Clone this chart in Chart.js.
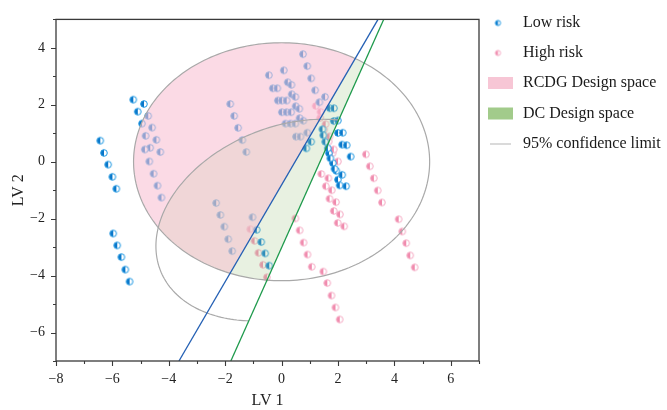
<!DOCTYPE html>
<html><head><meta charset="utf-8">
<script src="https://cdn.jsdelivr.net/npm/chart.js@4/dist/chart.umd.min.js"></script>
<style>html,body{margin:0;padding:0;background:#fff}</style>
</head><body>
<canvas id="c" width="667" height="410"></canvas>
<script>
// ---- data ----
const xTickValues = [-8, -6, -4, -2, 0, 2, 4, 6];
const yTickValues = [-6, -4, -2, 0, 2, 4];
const legendLabels = ['Low risk', 'High risk', 'RCDG Design space', 'DC Design space', '95% confidence limit'];

const lowRiskX = [
-6.43,-6.30,-6.15,-6.00,-5.86,
-5.97,-5.83,-5.68,-5.54,-5.39,
-5.26,-5.10,-4.95,-4.82,-4.66,
-4.88,-4.73,-4.59,-4.44,-4.30,
-4.85,-4.69,-4.54,-4.40,-4.26,
-1.82,-1.68,-1.54,-1.39,-1.25,
-2.32,-2.17,-2.03,-1.89,-1.75,
-1.03,-0.88,-0.72,-0.58,-0.44,
0.76,0.91,1.05,1.19,1.34,
0.08,0.22,0.36,0.50,0.64,
-0.45,-0.31,-0.13,0.01,0.14,
-0.15,0.01,0.18,0.32,0.51,
0.18,0.34,0.49,0.67,0.88,
0.35,0.49,0.63,0.77,0.91,
1.05,1.54,
1.71,1.85,2.00,2.15,
1.86,2.00,2.17,2.31,2.45,
1.45,1.55,1.68,1.82,1.94,
1.48,1.64,1.73,1.88,2.00,
2.06,2.15,2.29
];
const lowRiskY = [
0.74,0.31,-0.10,-0.53,-0.95,
-2.52,-2.94,-3.35,-3.79,-4.21,
2.18,1.76,1.34,0.91,0.49,
2.03,1.61,1.20,0.77,0.34,
0.43,0.01,-0.42,-0.84,-1.26,
2.03,1.61,1.19,0.76,0.34,
-1.45,-1.87,-2.28,-2.72,-3.14,
-1.95,-2.39,-2.82,-3.22,-3.65,
3.78,3.36,2.93,2.51,2.09,
3.21,2.79,2.37,1.95,1.53,
3.04,2.58,2.15,1.74,1.34,
2.58,2.15,1.74,1.34,0.88,
2.15,1.74,1.34,0.88,0.47,
2.70,2.28,1.86,1.44,1.02,
0.70,2.28,
1.88,1.43,1.01,0.60,
1.88,1.45,1.02,0.58,0.18,
1.14,0.70,0.30,-0.05,-0.32,
0.93,0.47,0.12,-0.25,-0.63,
-0.83,-0.46,-0.86
];
const highRiskX = [
-1.11,-0.96,-0.82,-0.66,-0.52,
0.49,0.64,0.78,0.92,1.07,
1.48,1.62,1.77,1.91,2.06,
2.99,3.13,3.27,3.41,3.56,
4.15,4.28,4.42,4.56,4.72,
1.41,1.57,1.70,1.85,1.99,
1.66,1.78,1.93,2.07,2.22,
1.21,1.37,1.51,1.67,1.81,
1.38,1.56,1.70,1.85,2.00
];
const highRiskY = [
-2.37,-2.78,-3.20,-3.62,-4.06,
-1.99,-2.41,-2.84,-3.26,-3.69,
-3.86,-4.26,-4.70,-5.12,-5.54,
0.26,-0.16,-0.58,-1.01,-1.43,
-2.02,-2.45,-2.86,-3.29,-3.71,
-0.43,-0.86,-1.30,-1.73,-2.15,
-0.58,-1.00,-1.42,-1.85,-2.27,
1.96,1.54,1.13,0.71,0.30,
1.75,1.32,0.89,0.43,0.01
];
// boundary lines (x at y-min, x at y-max)
const blueLineX = [-3.64, 3.42];
const blueLineY = [-7, 5];
const greenLineX = [-1.80, 3.62];
const greenLineY = [-7, 5];
// ellipses: [centerX, centerY, semiAxisA, semiAxisB, angleDeg]
const outerEllipse = [0, 0, 5.25, 4.18, 0];
const innerEllipse = [0.25, -2.05, 4.88, 3.30, 21];

// ---- helpers ----
function makeMarker(fill, stroke, r) {
  const s = Math.ceil(2 * r + 3);
  const c = document.createElement('canvas');
  c.width = s; c.height = s;
  const g = c.getContext('2d');
  const m = s / 2;
  g.beginPath(); g.arc(m, m, r, 0, Math.PI * 2); g.fillStyle = '#ffffff'; g.fill();
  g.beginPath(); g.moveTo(m, m - r); g.arc(m, m, r, -Math.PI / 2, Math.PI / 2, true); g.closePath();
  g.fillStyle = fill; g.fill();
  g.beginPath(); g.arc(m, m, r, 0, Math.PI * 2); g.lineWidth = 1; g.strokeStyle = stroke; g.stroke();
  return c;
}
const lowMarker = makeMarker('#0a76c8', '#1f98e2', 3.3);
const highMarker = makeMarker('#f08aad', '#f5a9c3', 3.3);
const lowLegendMarker = makeMarker('#0a76c8', '#1f98e2', 2.6);
const highLegendMarker = makeMarker('#f08aad', '#f5a9c3', 2.6);

function pts(xs, ys) { return xs.map((x, i) => ({x: x, y: ys[i]})); }
function fmt(v) { return String(v).replace('-', '\u2212'); }

function ellipsePath(ctx, xs, ys, e) {
  const [cx, cy, a, b, ang] = e;
  const th = ang * Math.PI / 180;
  ctx.beginPath();
  for (let i = 0; i <= 240; i++) {
    const t = i / 240 * Math.PI * 2;
    const X = cx + a * Math.cos(t) * Math.cos(th) - b * Math.sin(t) * Math.sin(th);
    const Y = cy + a * Math.cos(t) * Math.sin(th) + b * Math.sin(t) * Math.cos(th);
    const px = xs.getPixelForValue(X), py = ys.getPixelForValue(Y);
    if (i === 0) ctx.moveTo(px, py); else ctx.lineTo(px, py);
  }
  ctx.closePath();
}
function lineX(lx, ly, y) { return lx[0] + (y - ly[0]) * (lx[1] - lx[0]) / (ly[1] - ly[0]); }
function leftOfPath(ctx, xs, ys, lx, ly) {
  ctx.beginPath();
  ctx.moveTo(xs.getPixelForValue(lineX(lx, ly, -60)), ys.getPixelForValue(-60));
  ctx.lineTo(xs.getPixelForValue(lineX(lx, ly, 60)), ys.getPixelForValue(60));
  ctx.lineTo(xs.getPixelForValue(-100), ys.getPixelForValue(60));
  ctx.lineTo(xs.getPixelForValue(-100), ys.getPixelForValue(-60));
  ctx.closePath();
}
function bandPath(ctx, xs, ys) {
  ctx.beginPath();
  ctx.moveTo(xs.getPixelForValue(lineX(blueLineX, blueLineY, -60)), ys.getPixelForValue(-60));
  ctx.lineTo(xs.getPixelForValue(lineX(blueLineX, blueLineY, 60)), ys.getPixelForValue(60));
  ctx.lineTo(xs.getPixelForValue(lineX(greenLineX, greenLineY, 60)), ys.getPixelForValue(60));
  ctx.lineTo(xs.getPixelForValue(lineX(greenLineX, greenLineY, -60)), ys.getPixelForValue(-60));
  ctx.closePath();
}

const regionsPlugin = {
  id: 'regions',
  afterDatasetDraw(chart, args) {
    if (args.index !== 1) return;
    const ctx = chart.ctx, ca = chart.chartArea;
    const xs = chart.scales.x, ys = chart.scales.y;
    ctx.save();
    ctx.beginPath(); ctx.rect(ca.left, ca.top, ca.right - ca.left, ca.bottom - ca.top); ctx.clip();
    // RCDG (pink)
    ctx.save();
    ellipsePath(ctx, xs, ys, outerEllipse); ctx.clip();
    leftOfPath(ctx, xs, ys, blueLineX, blueLineY);
    ctx.fillStyle = 'rgba(248,192,210,0.58)'; ctx.fill();
    ctx.clip();
    ellipsePath(ctx, xs, ys, innerEllipse);
    ctx.fillStyle = 'rgba(205,200,170,0.24)'; ctx.fill();
    ctx.restore();
    // DC (green band)
    ctx.save();
    ellipsePath(ctx, xs, ys, outerEllipse); ctx.clip();
    bandPath(ctx, xs, ys);
    ctx.fillStyle = 'rgba(165,200,140,0.26)'; ctx.fill();
    ctx.restore();
    // confidence outlines
    ctx.lineWidth = 1.2; ctx.strokeStyle = '#a9a9a9';
    ellipsePath(ctx, xs, ys, outerEllipse); ctx.stroke();
    ctx.save();
    leftOfPath(ctx, xs, ys, greenLineX, greenLineY); ctx.clip();
    ellipsePath(ctx, xs, ys, innerEllipse); ctx.stroke();
    ctx.restore();
    ctx.restore();
  }
};

const frameLegendPlugin = {
  id: 'frameLegend',
  afterDraw(chart) {
    const ctx = chart.ctx, ca = chart.chartArea;
    const xs = chart.scales.x, ys = chart.scales.y;
    ctx.save();
    ctx.strokeStyle = '#3a3a3a'; ctx.lineWidth = 1.3;
    ctx.strokeRect(ca.left, ca.top, ca.right - ca.left, ca.bottom - ca.top);
    ctx.lineWidth = 1.1;
    ctx.beginPath();
    for (let v = -8; v <= 7; v++) {
      const px = Math.round(xs.getPixelForValue(v)) + 0.5;
      const len = (v % 2 === 0) ? 5 : 3;
      ctx.moveTo(px, ca.bottom); ctx.lineTo(px, ca.bottom + len);
    }
    for (let v = -7; v <= 5; v++) {
      const py = Math.round(ys.getPixelForValue(v)) + 0.5;
      const len = (v % 2 === 0) ? 5 : 3;
      ctx.moveTo(ca.left, py); ctx.lineTo(ca.left - len, py);
    }
    ctx.stroke();
    // legend
    const lx = ca.right + 9, tx = ca.right + 44;
    const rows = [23, 53, 83, 113.5, 143.5];
    ctx.font = '16px "Liberation Serif", "Times New Roman", serif';
    ctx.fillStyle = '#1a1a1a'; ctx.textBaseline = 'middle'; ctx.textAlign = 'left';
    ctx.drawImage(lowLegendMarker, lx + 10 - lowLegendMarker.width / 2, rows[0] - lowLegendMarker.height / 2);
    ctx.drawImage(highLegendMarker, lx + 10 - highLegendMarker.width / 2, rows[1] - highLegendMarker.height / 2);
    ctx.fillStyle = '#f7c6d5'; ctx.fillRect(lx, rows[2] - 6, 25, 12);
    ctx.fillStyle = '#a2cb8b'; ctx.fillRect(lx, rows[3] - 6, 25, 12);
    ctx.strokeStyle = '#b5b5b5'; ctx.lineWidth = 1;
    ctx.beginPath(); ctx.moveTo(lx + 2, rows[4] + 0.5); ctx.lineTo(lx + 23, rows[4] + 0.5); ctx.stroke();
    ctx.fillStyle = '#1a1a1a';
    legendLabels.forEach((t, i) => ctx.fillText(t, tx, rows[i]));
    ctx.restore();
  }
};

const serif = '"Liberation Serif", "Times New Roman", serif';

new Chart(document.getElementById('c'), {
  type: 'scatter',
  data: {
    datasets: [
      { label: legendLabels[1], data: pts(highRiskX, highRiskY), pointStyle: highMarker, pointRadius: 4, order: 4 },
      { label: legendLabels[0], data: pts(lowRiskX, lowRiskY), pointStyle: lowMarker, pointRadius: 4, order: 3 },
      { label: 'DC boundary 2', data: pts(greenLineX, greenLineY), showLine: true, pointRadius: 0, borderColor: '#1e9a4c', borderWidth: 1.3, order: 2 },
      { label: 'DC boundary 1', data: pts(blueLineX, blueLineY), showLine: true, pointRadius: 0, borderColor: '#2460b4', borderWidth: 1.3, order: 1 }
    ]
  },
  options: {
    responsive: false,
    animation: false,
    layout: { padding: { top: 14, right: 188, left: 0, bottom: 0 } },
    plugins: { legend: { display: false }, tooltip: { enabled: false } },
    scales: {
      x: {
        type: 'linear', min: -8, max: 7,
        grid: { display: false, drawTicks: false }, border: { display: false },
        ticks: { stepSize: 1, autoSkip: false, maxRotation: 0, padding: 10, color: '#222',
          font: { family: serif, size: 14 },
          callback: v => xTickValues.includes(v) ? fmt(v) : '' },
        title: { display: true, text: 'LV 1', color: '#222', font: { family: serif, size: 16 }, padding: { top: 0, bottom: 0 } },
        afterFit: s => { s.height = 49; }
      },
      y: {
        type: 'linear', min: -7, max: 5,
        grid: { display: false, drawTicks: false }, border: { display: false },
        ticks: { stepSize: 1, autoSkip: false, padding: 11, color: '#222',
          font: { family: serif, size: 14 },
          callback: v => yTickValues.includes(v) ? fmt(v) : '' },
        title: { display: true, text: 'LV 2', color: '#222', font: { family: serif, size: 16 }, padding: { top: 9, bottom: 0 } },
        afterFit: s => { s.width = 56; }
      }
    }
  },
  plugins: [regionsPlugin, frameLegendPlugin]
});
</script>
</body></html>
